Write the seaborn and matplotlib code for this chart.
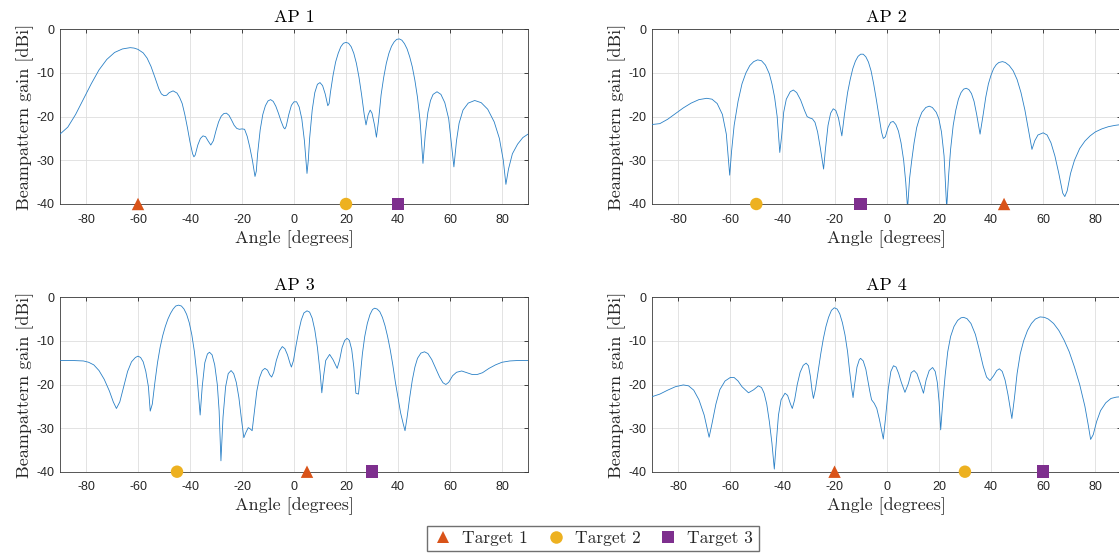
import matplotlib
matplotlib.use("Agg")
import matplotlib.pyplot as plt
from matplotlib.lines import Line2D
import numpy as np
import pandas as pd
import seaborn as sns

# ---------------------------------------------------------------- data
AP1_ANGLE = [-90, -87, -84, -81, -78, -75, -72, -69, -66, -63, -61.5, -60, -58, -56.5, -55, -53.5,
             -52, -51, -50, -49, -48, -46.5, -45, -44, -43, -42, -41, -40, -39, -38.5, -38, -37, -36,
             -35, -34, -33, -32, -31, -30, -29, -28, -27, -26, -25, -24, -23, -22, -21, -20, -19,
             -18, -17, -16, -15, -14.5, -14, -13, -12, -11, -10, -9, -8, -7, -6, -5, -4, -3.5, -3,
             -2, -1, 0, 1, 2, 3, 4, 5, 5.5, 6, 7, 8, 9, 10, 11, 12, 13, 13.5, 14, 15, 16, 17, 18, 19,
             20, 21, 22, 23, 24, 25, 26, 27, 27.7, 28.5, 29.3, 30, 31, 31.7, 32.5, 33.5, 34.5, 35.5,
             36.5, 37.5, 38.5, 39.5, 40.5, 41.5, 42.5, 43.5, 44.5, 45.5, 46.5, 47.5, 48.5, 49.6, 50.5,
             51.5, 52.5, 53.5, 55, 56.5, 58, 59.5, 61.5, 62.5, 63.5, 65, 67, 69.5, 72, 74.5, 77, 79,
             80.5, 81.5, 82.5, 84, 86, 88, 90]
AP1_GAIN = [-24.0, -22.4, -19.5, -16.0, -12.5, -9.3, -6.9, -5.3, -4.5, -4.2, -4.3, -4.6, -5.4,
            -6.6, -8.5, -11.0, -13.6, -14.8, -15.2, -15.1, -14.5, -14.1, -14.6, -15.6, -17.0, -19.5,
            -22.5, -25.8, -28.5, -29.2, -28.8, -26.5, -25.0, -24.4, -24.6, -25.6, -26.5, -25.5,
            -23.2, -21.2, -19.9, -19.3, -19.2, -19.7, -20.8, -22.0, -22.7, -22.9, -22.8, -22.9,
            -24.5, -27.0, -30.0, -33.7, -32.5, -28.5, -23.0, -19.5, -17.5, -16.4, -16.1, -16.5,
            -17.6, -19.2, -21.0, -22.5, -22.8, -22.2, -19.5, -17.4, -16.6, -16.6, -17.8, -20.5,
            -25.5, -33.0, -30.0, -25.0, -18.5, -14.5, -12.6, -12.2, -12.9, -14.8, -17.5, -17.0,
            -14.5, -10.6, -7.5, -5.5, -4.0, -3.2, -3.0, -3.2, -4.0, -5.5, -7.8, -11.0, -15.0, -19.5,
            -21.9, -19.6, -18.5, -19.2, -22.0, -24.7, -21.0, -15.0, -11.0, -7.8, -5.5, -3.9, -2.9,
            -2.3, -2.2, -2.5, -3.3, -4.5, -6.3, -8.6, -11.7, -15.6, -21.0, -30.7, -24.0, -19.0,
            -16.3, -14.9, -14.3, -14.9, -16.8, -20.5, -31.5, -25.5, -21.5, -18.5, -16.9, -16.3,
            -16.8, -18.3, -21.2, -25.0, -30.0, -35.5, -32.0, -28.5, -26.3, -24.8, -24.0]

AP2_ANGLE = [-90, -87, -84, -81, -78, -75, -72, -69, -67, -65, -63, -61.5, -60.2, -59.5, -58.5, -57,
             -55.5, -54, -52.5, -51, -49.5, -48, -46.5, -45, -44, -43, -42, -41, -40.3, -39.5, -38.5,
             -37, -35.8, -34.5, -33, -31.5, -30.5, -29.5, -28.5, -27.5, -26.5, -25.5, -24.2, -23.5,
             -22.5, -21.5, -20.5, -19.5, -18.5, -17.2, -16.2, -15, -14, -13, -12, -11, -10, -9, -8,
             -7, -6, -5, -4, -3, -2, -1.3, -0.5, 0.5, 1.5, 2.5, 3.5, 4.5, 5.5, 6.5, 7.3, 8, 8.8, 9.6,
             10.5, 11.5, 12.5, 13.5, 15, 16.3, 17.5, 19, 20, 21, 22, 23, 23.8, 24.5, 25.5, 26.5, 27.5,
             28.5, 29.5, 30.5, 31.5, 32.5, 33.5, 34.5, 35.8, 37, 38, 39, 40, 41, 42, 43, 44.4, 45.5,
             47, 48.5, 50, 51.5, 53, 54.5, 55.7, 56.8, 58, 60, 61.5, 63, 64.5, 66, 67.5, 68.3, 69.2,
             70.5, 72, 74, 76, 78, 80, 82.5, 85, 87.5, 90]
AP2_GAIN = [-21.8, -21.6, -20.6, -19.3, -18.0, -16.9, -16.1, -15.8, -16.0, -17.0, -19.5, -24.0,
            -33.4, -28.0, -22.0, -16.5, -12.5, -10.0, -8.3, -7.4, -7.0, -7.2, -8.2, -10.2, -12.5,
            -15.5, -20.0, -28.2, -24.5, -19.0, -16.0, -14.3, -13.9, -14.5, -16.2, -18.6, -20.0, -20.3,
            -20.5, -21.3, -23.5, -27.0, -32.0, -27.5, -22.0, -19.2, -18.2, -18.6, -20.3, -24.4, -19.5,
            -14.5, -11.5, -9.0, -7.3, -6.2, -5.7, -5.7, -6.3, -7.5, -9.5, -12.5, -16.0, -19.8, -23.5,
            -25.0, -24.6, -22.5, -21.3, -21.1, -21.8, -23.3, -26.0, -30.0, -35.0, -41.0, -34.0, -30.0,
            -26.0, -22.5, -20.5, -19.0, -17.9, -17.6, -17.9, -19.0, -20.5, -23.5, -29.0, -41.0, -33.0,
            -27.5, -22.0, -18.5, -16.0, -14.5, -13.7, -13.5, -13.8, -14.7, -16.5, -19.5, -24.0, -19.5,
            -15.5, -12.5, -10.5, -9.0, -8.1, -7.6, -7.4, -7.6, -8.3, -9.5, -11.5, -14.5, -18.5, -23.5,
            -27.5, -25.5, -24.2, -23.7, -24.2, -26.0, -29.0, -33.0, -37.5, -38.3, -37.0, -33.0, -30.0,
            -27.3, -25.6, -24.4, -23.5, -22.8, -22.3, -22.0, -21.8]

AP3_ANGLE = [-90, -85, -81, -79, -77, -75, -73, -71, -69.5, -68.3, -67, -65.5, -64, -62.5, -61, -60,
             -59, -58, -57, -56, -55.3, -54.5, -53.5, -52.5, -51.5, -50.5, -49.5, -48.5, -47.5, -46.5,
             -45.5, -44.4, -43.3, -42.3, -41.3, -40.3, -39.3, -38.3, -37.3, -36.1, -35.3, -34.3,
             -33.3, -32.5, -31.5, -30.5, -29.5, -28.8, -28.1, -27.3, -26.3, -25.3, -24.2, -23.2,
             -22.2, -21.2, -20.2, -19.3, -18.5, -17.6, -16.8, -16.1, -15.2, -14.3, -13.3, -12.2,
             -11.2, -10.2, -9.3, -8.6, -7.8, -6.8, -5.6, -4.5, -3.5, -2.5, -1.5, -1, -0.2, 0.8, 1.8,
             2.8, 3.8, 5, 6, 7, 8, 9, 10, 10.7, 11.4, 12.2, 13.7, 15, 16.6, 17.5, 18.5, 19.5, 20.4,
             21.3, 22.2, 23, 23.8, 24.8, 25.5, 26.3, 27.2, 28.2, 29.2, 30.2, 31, 32, 33, 34, 35, 36,
             37, 38, 39, 40, 41, 42, 42.7, 43.5, 44.5, 45.5, 46.5, 47.5, 48.8, 50.2, 51.5, 53, 54.5,
             56, 57.3, 58.4, 59.5, 61, 62.5, 64.5, 66.5, 68.5, 70.5, 72.5, 75, 77.5, 80, 83, 86, 90]
AP3_GAIN = [-14.5, -14.5, -14.6, -14.9, -15.5, -16.8, -18.8, -21.5, -24.0, -25.5, -24.0, -20.5,
            -17.0, -14.8, -13.8, -13.5, -13.8, -14.8, -17.0, -20.5, -26.1, -24.5, -19.5, -15.0,
            -11.5, -8.8, -6.7, -5.0, -3.7, -2.7, -2.0, -1.8, -2.0, -2.7, -3.9, -5.8, -8.6, -12.5,
            -18.0, -27.0, -20.5, -15.0, -13.0, -12.6, -13.2, -15.5, -20.0, -26.0, -37.5, -27.5,
            -20.5, -17.5, -16.8, -17.5, -19.5, -23.0, -28.0, -32.2, -31.0, -29.9, -30.2, -30.6,
            -26.0, -21.5, -18.5, -16.8, -16.3, -16.7, -17.8, -18.3, -17.2, -14.5, -12.3, -11.3,
            -11.8, -13.2, -15.2, -16.0, -14.5, -11.0, -7.8, -5.2, -3.6, -3.1, -3.4, -4.8, -7.5,
            -11.5, -17.0, -21.9, -18.0, -14.5, -13.1, -14.3, -16.3, -14.5, -11.5, -9.9, -9.4, -9.9,
            -12.0, -16.0, -22.0, -22.2, -18.0, -13.0, -9.0, -6.0, -4.0, -2.8, -2.5, -2.7, -3.3, -4.6,
            -6.5, -9.0, -12.0, -15.5, -19.5, -23.0, -26.5, -29.0, -30.6, -27.5, -23.0, -19.0, -16.0,
            -14.0, -12.8, -12.5, -12.9, -14.3, -16.3, -18.3, -19.6, -20.0, -19.5, -18.0, -17.2,
            -16.9, -17.3, -17.7, -17.7, -17.3, -16.3, -15.5, -14.9, -14.6, -14.5, -14.5]

AP4_ANGLE = [-90, -87, -84, -81, -78, -76, -74, -72, -70, -68.1, -67, -65.5, -64, -62, -60, -58.5,
             -57, -55.5, -53, -51, -49.2, -48, -47, -46, -45, -44, -43.1, -42.3, -41.5, -40.5, -39,
             -38, -37, -36.2, -35.3, -34.3, -33.2, -32, -30.9, -30, -29.3, -28.6, -28.1, -27.3,
             -26.3, -25.3, -24.3, -23.3, -22.3, -21.2, -20.1, -19, -18, -17, -16, -15, -14.2, -13.4,
             -12.9, -12.3, -11.4, -10.5, -10, -9, -8, -7.3, -6.5, -5.8, -4.8, -3.8, -2.8, -1.3, -0.5,
             0.6, 1.6, 2.6, 3.6, 4.6, 5.6, 7, 8.3, 9.4, 10.5, 11.6, 12.8, 14.1, 15.1, 16.3, 17.6,
             18.6, 19.4, 20.1, 20.7, 21.5, 22.4, 23.4, 24.5, 25.8, 27.2, 28.5, 29.5, 30.8, 32.3, 34,
             35.5, 37, 38.3, 39.6, 41, 42.2, 43.2, 44.3, 45.4, 46.5, 48, 49, 50, 51.2, 52.5, 54, 55.5,
             57, 58.8, 60.5, 62, 64, 66, 68, 70, 72, 74, 76, 77.2, 78.2, 79.2, 80.5, 82, 84, 86, 88,
             90]
AP4_GAIN = [-22.8, -22.2, -21.3, -20.5, -20.1, -20.3, -21.3, -23.5, -27.0, -32.1, -29.0, -24.5,
            -21.2, -19.2, -18.4, -18.4, -19.2, -20.5, -21.9, -21.2, -20.3, -20.7, -22.0, -24.5,
            -28.5, -33.5, -39.4, -33.0, -27.0, -23.5, -22.0, -22.5, -24.3, -25.5, -23.5, -20.0,
            -17.2, -15.6, -15.1, -15.7, -18.0, -21.5, -23.2, -21.0, -17.0, -13.0, -9.5, -6.7, -4.6,
            -3.0, -2.4, -2.7, -3.8, -5.8, -8.6, -12.5, -17.0, -21.0, -23.0, -20.0, -16.0, -14.3,
            -14.0, -14.6, -16.5, -18.8, -21.5, -23.5, -24.3, -25.5, -28.0, -32.5, -28.0, -21.0,
            -17.0, -15.7, -16.0, -17.5, -19.5, -21.8, -19.8, -17.3, -16.8, -17.5, -19.6, -22.0,
            -19.0, -16.8, -16.1, -17.0, -19.5, -24.0, -30.4, -24.0, -18.0, -12.5, -9.0, -6.7, -5.3,
            -4.7, -4.6, -4.9, -6.0, -8.5, -12.0, -15.8, -18.3, -19.1, -18.0, -16.8, -16.4, -17.0,
            -19.0, -22.3, -27.8, -23.0, -17.5, -13.0, -10.0, -7.6, -6.0, -5.0, -4.5, -4.6, -5.0,
            -6.0, -7.6, -9.8, -12.5, -16.0, -20.0, -25.0, -29.0, -32.6, -31.5, -28.5, -26.0, -24.2,
            -23.2, -22.9, -22.8]

AP_NAMES = ["AP 1", "AP 2", "AP 3", "AP 4"]
TARGET_NAMES = ["Target 1", "Target 2", "Target 3"]
# target directions per access point (Target 1, Target 2, Target 3)
AP1_TARGETS = [-60, 20, 40]
AP2_TARGETS = [45, -50, -10]
AP3_TARGETS = [5, -45, 30]
AP4_TARGETS = [-20, 30, 60]
TARGET_LEVEL = -40

X_TICKS = [-80, -60, -40, -20, 0, 20, 40, 60, 80]
Y_TICKS = [-40, -30, -20, -10, 0]

# ---------------------------------------------------------------- style
sns.set_style("white")
plt.rcParams["axes.unicode_minus"] = False
plt.rcParams["font.family"] = ["Liberation Sans", "DejaVu Sans"]

LINE_COLOR = "#2a80c6"
TARGET_COLORS = {"Target 1": "#D95319", "Target 2": "#EDB120", "Target 3": "#7E2F8E"}
TARGET_MARKERS = {"Target 1": "^", "Target 2": "o", "Target 3": "s"}
SERIF = "cmr10"
AX_COLOR = "#262626"

curves = {
    "AP 1": (AP1_ANGLE, AP1_GAIN, AP1_TARGETS),
    "AP 2": (AP2_ANGLE, AP2_GAIN, AP2_TARGETS),
    "AP 3": (AP3_ANGLE, AP3_GAIN, AP3_TARGETS),
    "AP 4": (AP4_ANGLE, AP4_GAIN, AP4_TARGETS),
}

W, H = 1119, 553
fig = plt.figure(figsize=(W / 100, H / 100), dpi=100)

# axes boxes in pixels: left, top, right, bottom
boxes = {
    "AP 1": (60, 29.3, 528, 204),
    "AP 2": (652, 29.3, 1121.4, 204),
    "AP 3": (60, 297.3, 528, 471.7),
    "AP 4": (652, 297.3, 1121.4, 471.7),
}

for name in AP_NAMES:
    l, t, r, b = boxes[name]
    ax = fig.add_axes([l / W, 1 - b / H, (r - l) / W, (b - t) / H])
    ang, gain, tgt = curves[name]
    df = pd.DataFrame({"angle": ang, "gain": gain})
    sns.lineplot(data=df, x="angle", y="gain", ax=ax, color=LINE_COLOR, lw=0.6,
                 estimator=None, sort=False, zorder=3)

    tdf = pd.DataFrame({"angle": tgt, "gain": [TARGET_LEVEL] * 3, "target": TARGET_NAMES})
    sns.scatterplot(data=tdf, x="angle", y="gain", hue="target", style="target",
                    palette=TARGET_COLORS, markers=TARGET_MARKERS, s=80, linewidth=0,
                    ax=ax, legend=False, clip_on=False, zorder=5)

    ax.set_xlim(-90, 90)
    ax.set_ylim(-40, 0)
    ax.set_xticks(X_TICKS)
    ax.set_yticks(Y_TICKS)
    ax.grid(True, color="#dedede", lw=0.6)
    ax.set_axisbelow(True)
    ax.tick_params(direction="in", length=3, width=0.6, color=AX_COLOR, labelcolor=AX_COLOR,
                   labelsize=9, top=True, right=True)
    ax.tick_params(axis="x", pad=7)
    ax.tick_params(axis="y", pad=4)
    for sp in ax.spines.values():
        sp.set_color("#3a3a3a")
        sp.set_linewidth(0.6)
    ax.set_title(name, fontfamily=SERIF, fontsize=13, pad=5, color="black")
    ax.set_xlabel("Angle [degrees]", fontfamily=SERIF, fontsize=13, labelpad=3)
    ax.set_ylabel("Beampattern gain [dBi]", fontfamily=SERIF, fontsize=13, labelpad=2)

handles = [Line2D([], [], ls="none", marker=TARGET_MARKERS[n], color=TARGET_COLORS[n],
                  markersize=9, markeredgewidth=0) for n in TARGET_NAMES]
fig.legend(handles, TARGET_NAMES, loc="center", bbox_to_anchor=(593 / W, 1 - 538.5 / H),
           ncol=3, frameon=True, fancybox=False, edgecolor="#707070", framealpha=1,
           prop={"family": SERIF, "size": 12.5}, handletextpad=0.5, columnspacing=1.0,
           borderpad=0.3, handlelength=1.2)

fig.savefig("out.png", dpi=100)
